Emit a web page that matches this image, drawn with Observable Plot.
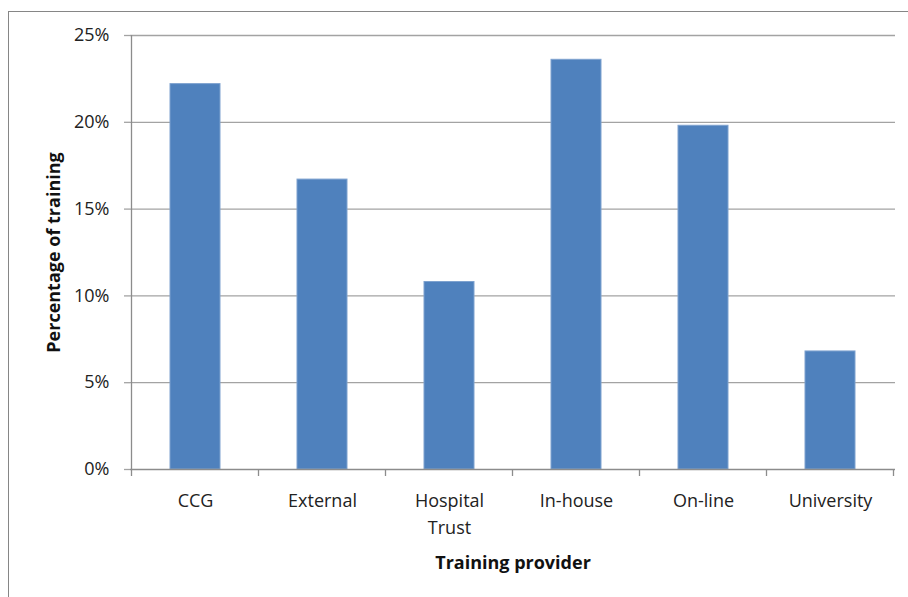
<!DOCTYPE html>
<html>
<head>
<meta charset="utf-8">
<script src="https://cdn.jsdelivr.net/npm/d3@7"></script>
<script src="https://cdn.jsdelivr.net/npm/@observablehq/plot@0.6"></script>
<style>
  html, body { margin: 0; padding: 0; background: #fff; overflow: hidden; }
  #chart { position: relative; width: 908px; height: 597px; }
  #chart .edge {
    position: absolute; left: 8px; top: 11px; width: 930px; height: 620px;
    border: 1px solid #868686; box-sizing: border-box;
  }
  #chart svg { position: absolute; left: 0; top: 0; }
</style>
</head>
<body>
<div id="chart"><div class="edge"></div></div>
<script>
// Share of training by provider
const providers = ["CCG", "External", "Hospital Trust", "In-house", "On-line", "University"];
const shares = [0.222, 0.167, 0.108, 0.236, 0.198, 0.068];
const yTicks = [0, 0.05, 0.10, 0.15, 0.20, 0.25];
const xTitle = "Training provider";
const yTitle = "Percentage of training";

const data = providers.map((provider, i) => ({provider, share: shares[i]}));

const GRID = "#a3a3a3";
const AXIS = "#8c8c8c";
const FONT = "'Open Sans', Lato, sans-serif";

// Tick marks between categories along the baseline, plus the value axis line
function categoryTicks(index, scales) {
  const x = scales.x, y = scales.y;
  const bw = typeof x.bandwidth === "function" ? x.bandwidth() : x.bandwidth;
  const step = x(providers[1]) - x(providers[0]);
  const gap = step - bw;
  const y0 = y(0);
  const edges = providers.map(p => x(p) - gap / 2)
    .concat(x(providers[providers.length - 1]) + bw + gap / 2);
  const g = d3.create("svg:g").attr("stroke", AXIS).attr("stroke-width", 1.3);
  for (const e of edges) {
    g.append("line").attr("x1", e).attr("x2", e).attr("y1", y0).attr("y2", y0 + 7);
  }
  g.append("line")
    .attr("x1", edges[0]).attr("x2", edges[0])
    .attr("y1", y(yTicks[yTicks.length - 1])).attr("y2", y0);
  return g.node();
}

const chart = Plot.plot({
  width: 908,
  height: 597,
  marginLeft: 130,
  marginRight: 13,
  marginTop: 35,
  marginBottom: 128,
  style: {fontFamily: FONT, fontSize: "18px", color: "#222", background: "transparent", overflow: "visible"},
  x: {domain: providers, paddingInner: 0.608, paddingOuter: 0.304, label: null, axis: null},
  y: {domain: [0, 0.25], label: null, axis: null},
  marks: [
    Plot.gridY(yTicks.slice(1), {stroke: GRID, strokeOpacity: 1, strokeWidth: 1.3}),
    Plot.axisY(yTicks, {
      tickSize: 6, tickPadding: 15, tickFormat: d3.format(".0%"),
      stroke: GRID, strokeOpacity: 1, strokeWidth: 1.3, label: null, fontSize: 18
    }),
    Plot.barY(data, {x: "provider", y: "share", fill: "#4f81bd", stroke: "#7ea2cf", strokeWidth: 1}),
    Plot.ruleY([0], {stroke: AXIS, strokeWidth: 1.3}),
    categoryTicks,
    Plot.axisX(providers, {
      tickSize: 0, tickPadding: 18, label: null, fontSize: 18, lineHeight: 1.5,
      tickFormat: d => d.replace(" ", "\n"),
      style: {letterSpacing: "0.7px"}
    }),
    Plot.text([yTitle], {
      text: d => d, frameAnchor: "left", textAnchor: "middle", rotate: -90, dx: -76,
      fontWeight: "bold", fontSize: 18, fill: "#111"
    }),
    Plot.text([xTitle], {
      text: d => d, frameAnchor: "bottom", dy: 99,
      fontWeight: "bold", fontSize: 18, fill: "#111"
    })
  ]
});

document.getElementById("chart").appendChild(chart);
</script>
</body>
</html>
